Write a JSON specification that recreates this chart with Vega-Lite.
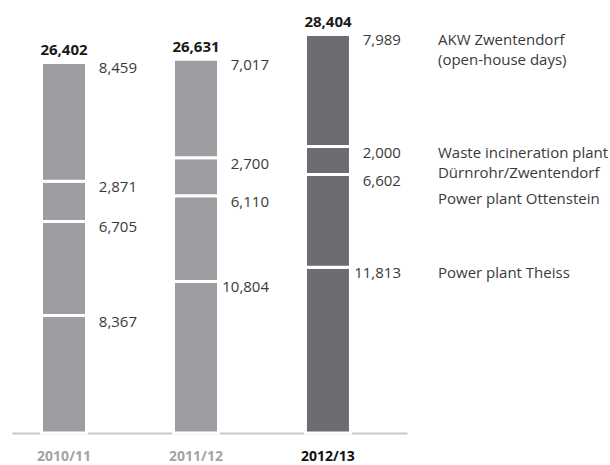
{
  "$schema": "https://vega.github.io/schema/vega-lite/v6.json",
  "width": 395,
  "height": 421,
  "autosize": {"type": "none"},
  "padding": {"left": 12, "top": 12, "right": 203, "bottom": 32},
  "config": {"view": {"stroke": null}, "font": "Open Sans", "text": {"font": "Open Sans"}},
  "data": {
    "values": [
      {"year": "2010/11", "segment": "Power plant Theiss", "rank": 1, "value": 8367},
      {"year": "2010/11", "segment": "Power plant Ottenstein", "rank": 2, "value": 6705},
      {"year": "2010/11", "segment": "Waste incineration plant\nDürnrohr/Zwentendorf", "rank": 3, "value": 2871},
      {"year": "2010/11", "segment": "AKW Zwentendorf\n(open-house days)", "rank": 4, "value": 8459},
      {"year": "2011/12", "segment": "Power plant Theiss", "rank": 1, "value": 10804},
      {"year": "2011/12", "segment": "Power plant Ottenstein", "rank": 2, "value": 6110},
      {"year": "2011/12", "segment": "Waste incineration plant\nDürnrohr/Zwentendorf", "rank": 3, "value": 2700},
      {"year": "2011/12", "segment": "AKW Zwentendorf\n(open-house days)", "rank": 4, "value": 7017},
      {"year": "2012/13", "segment": "Power plant Theiss", "rank": 1, "value": 11813},
      {"year": "2012/13", "segment": "Power plant Ottenstein", "rank": 2, "value": 6602},
      {"year": "2012/13", "segment": "Waste incineration plant\nDürnrohr/Zwentendorf", "rank": 3, "value": 2000},
      {"year": "2012/13", "segment": "AKW Zwentendorf\n(open-house days)", "rank": 4, "value": 7989}
    ]
  },
  "encoding": {
    "x": {
      "field": "year",
      "type": "nominal",
      "sort": null,
      "scale": {"paddingInner": 0.659, "paddingOuter": 0.326, "align": 0.343},
      "axis": {
        "title": null,
        "ticks": false,
        "labelAngle": 0,
        "domainColor": "#c8c8c8",
        "domainWidth": 2,
        "labelFont": "Open Sans",
        "labelFontSize": 14,
        "labelFontWeight": "bold",
        "labelBaseline": "top",
        "labelPadding": 16,
        "labelColor": {"condition": {"test": "datum.value == '2012/13'", "value": "#111111"}, "value": "#a3a3a6"},
        "zindex": 0
      }
    }
  },
  "layer": [
    {
      "mark": {"type": "bar", "stroke": "white", "strokeWidth": 3},
      "encoding": {
        "y": {"field": "value", "type": "quantitative", "stack": "zero", "scale": {"domain": [0, 30000], "nice": false}, "axis": null},
        "detail": {"field": "segment"},
        "order": {"field": "rank", "type": "quantitative"},
        "color": {"field": "year", "type": "nominal", "scale": {"domain": ["2010/11", "2011/12", "2012/13"], "range": ["#9d9ea2", "#9d9ea2", "#6c6d71"]}, "legend": null}
      }
    },
    {
      "transform": [
        {"stack": "value", "groupby": ["year"], "sort": [{"field": "rank"}], "as": ["v0", "v1"]}
      ],
      "mark": {"type": "text", "align": "right", "baseline": "top", "dx": 73, "dy": -1, "fontSize": 15, "color": "#3a3a3a"},
      "encoding": {
        "y": {"field": "v1", "type": "quantitative", "scale": {"domain": [0, 30000], "nice": false}, "axis": null},
        "text": {"field": "value", "type": "quantitative", "format": ","}
      }
    },
    {
      "mark": {"type": "text", "align": "center", "baseline": "bottom", "dy": -4, "fontSize": 15, "fontWeight": "bold", "color": "#1a1a1a"},
      "encoding": {
        "y": {"aggregate": "sum", "field": "value", "type": "quantitative", "scale": {"domain": [0, 30000], "nice": false}, "axis": null},
        "text": {"aggregate": "sum", "field": "value", "type": "quantitative", "format": ","}
      }
    },
    {
      "transform": [
        {"stack": "value", "groupby": ["year"], "sort": [{"field": "rank"}], "as": ["v0", "v1"]},
        {"filter": "datum.year == '2012/13' && datum.rank != 2"}
      ],
      "mark": {"type": "text", "align": "left", "baseline": "top", "dx": 110, "dy": -1, "fontSize": 15, "lineBreak": "\n", "lineHeight": 20, "color": "#3a3a3a"},
      "encoding": {
        "y": {"field": "v1", "type": "quantitative", "scale": {"domain": [0, 30000], "nice": false}, "axis": null},
        "text": {"field": "segment"}
      }
    },
    {
      "transform": [
        {"stack": "value", "groupby": ["year"], "sort": [{"field": "rank"}], "as": ["v0", "v1"]},
        {"filter": "datum.year == '2012/13' && datum.rank == 2"}
      ],
      "mark": {"type": "text", "align": "left", "baseline": "top", "dx": 110, "dy": 17, "fontSize": 15, "color": "#3a3a3a"},
      "encoding": {
        "y": {"field": "v1", "type": "quantitative", "scale": {"domain": [0, 30000], "nice": false}, "axis": null},
        "text": {"field": "segment"}
      }
    }
  ]
}
